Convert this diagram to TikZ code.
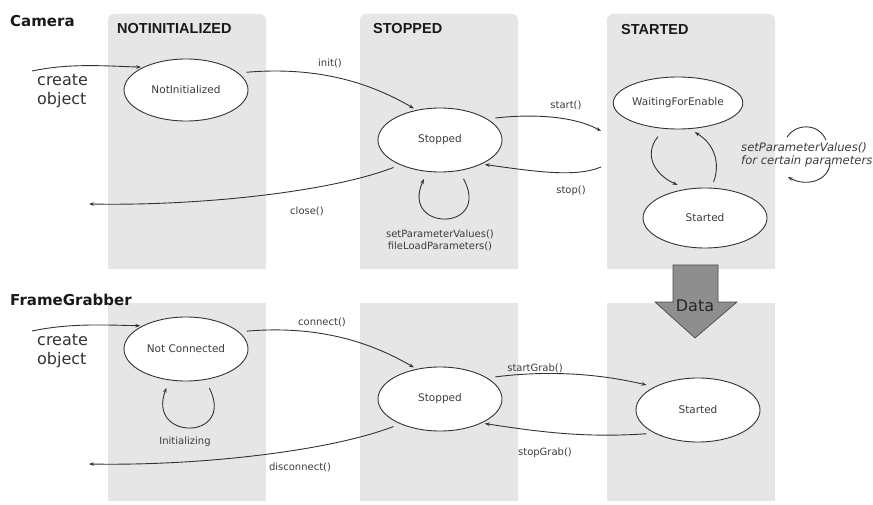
\documentclass[tikz,border=0pt]{standalone}
\usepackage{fontspec}
\setmainfont{DejaVu Sans}
\newfontfamily\hdfont{Liberation Sans}
\usetikzlibrary{arrows.meta,shapes.geometric}

\definecolor{panelgray}{HTML}{E6E6E6}
\definecolor{linegray}{HTML}{333333}
\definecolor{labelgray}{HTML}{3C3C3C}
\definecolor{datafill}{HTML}{8E8E8E}

\tikzset{
  panel/.style={fill=panelgray, draw=none},
  state/.style={ellipse, draw=linegray, line width=0.9pt, fill=white, inner sep=0pt,
                font=\fontsize{10.5}{12}\selectfont, text=labelgray},
  trans/.style={draw=linegray, line width=0.9pt, -{Stealth[length=5pt,width=3.6pt]}},
  lbl/.style={font=\fontsize{10}{12}\selectfont, text=labelgray, inner sep=0pt, align=center},
  colhead/.style={font=\hdfont\bfseries\fontsize{14.5}{16}\selectfont, text=black!90, inner sep=0pt, anchor=west},
  objhead/.style={font=\bfseries\fontsize{15}{17}\selectfont, text=black!90, inner sep=0pt, anchor=west},
  bigtext/.style={font=\fontsize{16}{19}\selectfont, text=black!80, inner sep=0pt, align=left, anchor=west},
}

\begin{document}
\begin{tikzpicture}[x=1pt, y=-1pt]
\useasboundingbox (0,0) rectangle (873,505);

% ---- column panels, Camera row (rounded top) ----
\foreach \xa/\xb in {108/266, 360/518, 607/775}{
  \fill[panel, rounded corners=6pt] (\xa,14) rectangle (\xb,269);
  \fill[panel] (\xa,60) rectangle (\xb,269);
}
% ---- column panels, FrameGrabber row ----
\foreach \xa/\xb in {108/266, 360/518, 607/775}{
  \fill[panel] (\xa,303) rectangle (\xb,501);
}

% ---- headings ----
\node[objhead] (hcam) at (10,21) {Camera};
\node[objhead] (hfg) at (10,300) {FrameGrabber};
\node[colhead] (hni) at (117,29) {NOTINITIALIZED};
\node[colhead] (hst) at (373,29) {STOPPED};
\node[colhead] (hsa) at (621,30) {STARTED};

% ---- Camera states ----
\node[state, minimum width=124pt, minimum height=62pt] (ni) at (186,90) {NotInitialized};
\node[state, minimum width=124pt, minimum height=64pt] (st) at (440,140) {Stopped};
\node[state, minimum width=116pt, minimum height=52pt] (wf) at (678,103) {WaitingForEnable};
\node[state, minimum width=124pt, minimum height=60pt] (sd) at (705,218) {Started};

% ---- FrameGrabber states ----
\node[state, minimum width=124pt, minimum height=64pt] (nc) at (186,349) {Not Connected};
\node[state, minimum width=124pt, minimum height=64pt] (sb) at (440,399) {Stopped};
\node[state, minimum width=124pt, minimum height=64pt] (gs) at (698,410) {Started};

% ---- data transfer arrow ----
\filldraw[fill=datafill, draw=black!70, line width=0.7pt]
  (673,265) -- (718,265) -- (718,302) -- (737,302) -- (695,338) -- (655,302) -- (673,302) -- cycle;
\node[font=\fontsize{16}{19}\selectfont, text=black!85, inner sep=0pt] (data) at (695,306) {Data};

% ---- free ends ----
\coordinate (camnew) at (32,71);
\coordinate (camgone) at (89,204);
\coordinate (startin) at (601,131);
\coordinate (stopout) at (601,167);
\coordinate (fgnew) at (32,331);
\coordinate (fggone) at (89,464);

% ---- Camera transitions ----
\draw[trans, shorten >=2pt] (camnew) .. controls (70,63) and (105,66) .. (ni.152);
\node[bigtext] (cobj1) at (37,91) {create\\object};

\draw[trans, shorten <=8pt, shorten >=3pt] (ni.18) .. controls (320,66) and (372,84) .. (st.128);
\node[lbl] (linit) at (330,63) {init()};

\draw[trans, shorten <=8pt] (st.24) .. controls (540,113) and (578,118) .. (startin);
\node[lbl] (lstart) at (566,105) {start()};

\draw[trans, shorten >=3pt] (stopout) .. controls (575,178) and (532,171) .. (st.-30);
\node[lbl] (lstop) at (571,191) {stop()};

\draw[trans, shorten <=7pt] (st.-148) .. controls (330,192) and (200,206) .. (camgone);
\node[lbl] (lclose) at (307,211) {close()};

\draw[trans, shorten <=9pt, shorten >=8pt] (st.-58) .. controls (492,232) and (400,232) .. (st.-112);
\node[lbl] (lcfg) at (440,240) {setParameterValues()\\fileLoadParameters()};

\draw[trans, shorten <=10pt, shorten >=10pt] (wf.-118) .. controls (643,155) and (655,175) .. (sd.122);
\draw[trans, shorten <=6pt, shorten >=6pt] (sd.78) .. controls (720,165) and (716,145) .. (wf.-66);

% loop drawn around the italic label beside the Started states
\node[font=\itshape\fontsize{11.6}{12.5}\selectfont, text=labelgray, inner sep=0pt, align=left, anchor=west]
  (lrun) at (741,155) {setParameterValues()\\for certain parameters};
\draw[draw=linegray, line width=0.9pt] (787,137) .. controls (795,124) and (818,122) .. (826,140);
\draw[trans] (830,163) .. controls (829,181) and (806,187) .. (788,177);

% ---- FrameGrabber transitions ----
\draw[trans, shorten >=2pt] (fgnew) .. controls (70,323) and (105,325) .. (nc.152);
\node[bigtext] (cobj2) at (37,351) {create\\object};

\draw[trans, shorten <=9pt, shorten >=8pt] (nc.-58) .. controls (236,441) and (146,441) .. (nc.-118);
\node[lbl] (linitz) at (185,442) {Initializing};

\draw[trans, shorten <=8pt, shorten >=3pt] (nc.18) .. controls (320,325) and (372,343) .. (sb.128);
\node[lbl] (lconn) at (322,322) {connect()};

\draw[trans, shorten <=8pt, shorten >=8pt] (sb.24) .. controls (550,370) and (600,374) .. (gs.152);
\node[lbl] (lsg) at (535,368) {startGrab()};

\draw[trans, shorten <=8pt, shorten >=3pt] (gs.-152) .. controls (585,438) and (540,432) .. (sb.-30);
\node[lbl] (lstg) at (545,453) {stopGrab()};

\draw[trans, shorten <=7pt] (sb.-148) .. controls (330,451) and (200,466) .. (fggone);
\node[lbl] (ldisc) at (300,467) {disconnect()};

\end{tikzpicture}
\end{document}
